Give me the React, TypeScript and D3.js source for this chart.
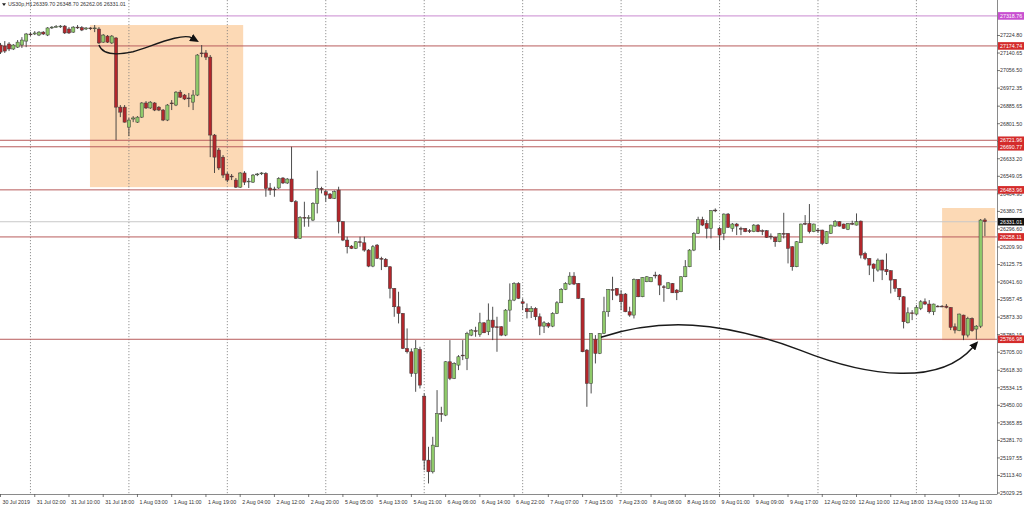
import React from 'react';
import * as d3 from 'd3';

// ---- data: US30p H1 candles (open, high, low, close), bar index 0..230 ----
const opens = [
  27179, 27174, 27184, 27160, 27169, 27179, 27198, 27232, 27232, 27227,
  27241, 27227, 27261, 27265, 27268, 27270, 27256, 27241, 27265, 27263,
  27256, 27261, 27258, 27256, 27193, 27222, 27189, 27213, 26881, 26881,
  26785, 26824, 26809, 26833, 26901, 26877, 26901, 26881, 26867, 26819,
  26901, 26891, 26953, 26939, 26925, 26905, 26939, 27141, 27141, 27121,
  26747, 26675, 26641, 26560, 26550, 26531, 26497, 26565, 26523, 26521,
  26557, 26562, 26563, 26493, 26488, 26493, 26541, 26517, 26536, 26427,
  26251, 26352, 26350, 26339, 26419, 26491, 26475, 26464, 26443, 26483,
  26331, 26243, 26214, 26203, 26235, 26230, 26195, 26118, 26219, 26155,
  26151, 26115, 26011, 25923, 25891, 25723, 25707, 25603, 25718, 25494,
  25187, 25131, 25251, 25411, 25403, 25659, 25579, 25643, 25691, 25675,
  25787, 25808, 25790, 25846, 25803, 25859, 25827, 25827, 25787, 25907,
  25955, 26035, 25947, 25915, 25899, 25915, 25875, 25830, 25843, 25830,
  25891, 25942, 26006, 26032, 26070, 26035, 25963, 25715, 25555, 25766,
  25699, 25795, 25899, 26006, 26011, 25984, 25984, 25899, 25883, 26054,
  25971, 26043, 26043, 26075, 26075, 26019, 26011, 26035, 26003, 25995,
  26067, 26115, 26195, 26275, 26342, 26323, 26299, 26387, 26299, 26275,
  26368, 26299, 26320, 26299, 26299, 26288, 26283, 26315, 26288, 26288,
  26262, 26256, 26235, 26275, 26275, 26211, 26115, 26230, 26323, 26323,
  26283, 26291, 26291, 26227, 26275, 26310, 26331, 26320, 26294, 26323,
  26315, 26334, 26179, 26155, 26128, 26099, 26147, 26102, 26096, 26054,
  26011, 25971, 25846, 25894, 25888, 25915, 25947, 25936, 25899, 25926,
  25926, 25926, 25920, 25827, 25808, 25883, 25787, 25867, 25816, 25830,
  26339.70,
];
const highs = [
  27189, 27198, 27193, 27184, 27203, 27217, 27237, 27241, 27246, 27246,
  27246, 27265, 27270, 27275, 27275, 27275, 27265, 27270, 27275, 27270,
  27265, 27265, 27275, 27265, 27232, 27227, 27227, 27217, 26891, 26891,
  26829, 26838, 26838, 26905, 26910, 26910, 26905, 26886, 26872, 26896,
  26915, 26958, 26963, 26944, 26949, 26963, 27136, 27179, 27155, 27131,
  26752, 26685, 26651, 26569, 26560, 26541, 26569, 26574, 26541, 26560,
  26565, 26569, 26569, 26517, 26499, 26545, 26545, 26541, 26691, 26435,
  26358, 26427, 26363, 26425, 26576, 26499, 26483, 26469, 26481, 26499,
  26334, 26259, 26219, 26238, 26259, 26259, 26200, 26219, 26224, 26163,
  26157, 26118, 26013, 25995, 25893, 25819, 25723, 25763, 25731, 25507,
  25251, 25299, 25523, 25443, 25662, 25763, 25657, 25691, 25763, 25803,
  25816, 25827, 25894, 25849, 25939, 25923, 25875, 25830, 25912, 26035,
  26041, 26041, 25963, 25939, 25926, 25921, 25891, 25854, 25849, 25897,
  25950, 26013, 26041, 26089, 26089, 26037, 25965, 25720, 25797, 25787,
  25797, 25971, 26008, 26067, 26013, 26003, 25989, 25923, 26059, 26056,
  26065, 26070, 26065, 26091, 26080, 26027, 26041, 26037, 26008, 26070,
  26147, 26200, 26281, 26355, 26355, 26339, 26387, 26395, 26307, 26371,
  26373, 26325, 26325, 26307, 26301, 26296, 26320, 26320, 26294, 26291,
  26275, 26259, 26277, 26374, 26277, 26214, 26238, 26322, 26363, 26416,
  26322, 26301, 26293, 26286, 26317, 26339, 26334, 26322, 26325, 26336,
  26371, 26337, 26187, 26157, 26131, 26155, 26149, 26179, 26099, 26056,
  26013, 25974, 25920, 25907, 25931, 25955, 25963, 25955, 25938, 25931,
  25931, 25936, 25921, 25843, 25890, 25885, 25875, 25872, 25835, 26344,
  26348.70,
];
const lows = [
  27136, 27141, 27150, 27155, 27165, 27165, 27169, 27222, 27227, 27222,
  27227, 27222, 27256, 27263, 27261, 27232, 27232, 27237, 27256, 27246,
  27251, 27251, 27241, 27184, 27189, 27189, 27184, 26723, 26833, 26807,
  26742, 26809, 26805, 26829, 26872, 26872, 26862, 26862, 26814, 26814,
  26867, 26886, 26925, 26915, 26881, 26867, 26934, 27121, 27107, 26641,
  26565, 26579, 26541, 26521, 26531, 26493, 26493, 26507, 26493, 26517,
  26550, 26555, 26451, 26459, 26451, 26488, 26512, 26512, 26425, 26248,
  26248, 26307, 26307, 26334, 26371, 26467, 26427, 26440, 26440, 26275,
  26238, 26179, 26200, 26200, 26211, 26187, 26113, 26113, 26152, 26099,
  26113, 25963, 25875, 25843, 25720, 25699, 25587, 25515, 25531, 25139,
  25075, 25123, 25250, 25371, 25398, 25571, 25576, 25619, 25667, 25619,
  25782, 25779, 25779, 25797, 25787, 25763, 25707, 25782, 25782, 25851,
  25950, 25960, 25907, 25867, 25869, 25859, 25787, 25797, 25821, 25825,
  25888, 25941, 26003, 26027, 26027, 25960, 25705, 25443, 25507, 25651,
  25696, 25792, 25875, 25955, 25974, 25907, 25897, 25875, 25867, 25969,
  25969, 26041, 26041, 26059, 25979, 25947, 26008, 25989, 25955, 25993,
  26065, 26113, 26190, 26272, 26310, 26251, 26251, 26377, 26195, 26243,
  26301, 26283, 26267, 26267, 26281, 26277, 26281, 26281, 26267, 26253,
  26246, 26211, 26233, 26251, 26131, 26096, 26113, 26229, 26315, 26275,
  26281, 26277, 26219, 26224, 26272, 26307, 26308, 26296, 26291, 26315,
  26313, 26155, 26147, 26075, 26043, 26091, 26051, 26075, 25987, 25995,
  25955, 25819, 25843, 25859, 25883, 25907, 25931, 25891, 25883, 25921,
  25921, 25915, 25811, 25795, 25806, 25763, 25776, 25803, 25766, 25821,
  26262.06,
];
const closes = [
  27145, 27150, 27160, 27179, 27193, 27203, 27232, 27229, 27237, 27241,
  27232, 27261, 27265, 27268, 27270, 27237, 27237, 27265, 27263, 27251,
  27261, 27258, 27261, 27189, 27227, 27193, 27222, 26881, 26857, 26809,
  26819, 26829, 26833, 26901, 26877, 26905, 26867, 26867, 26819, 26891,
  26898, 26953, 26929, 26920, 26922, 26939, 27131, 27140, 27121, 26747,
  26641, 26589, 26555, 26531, 26548, 26497, 26565, 26521, 26526, 26555,
  26560, 26565, 26491, 26483, 26486, 26539, 26517, 26536, 26427, 26251,
  26352, 26350, 26351, 26419, 26491, 26490, 26459, 26443, 26475, 26331,
  26243, 26211, 26203, 26235, 26234, 26195, 26118, 26211, 26155, 26154,
  26115, 26011, 25923, 25891, 25723, 25707, 25603, 25723, 25547, 25187,
  25131, 25259, 25411, 25410, 25659, 25579, 25651, 25683, 25690, 25795,
  25811, 25807, 25846, 25798, 25859, 25824, 25826, 25787, 25907, 25955,
  26035, 25963, 25939, 25899, 25915, 25875, 25830, 25846, 25830, 25891,
  25942, 26006, 26035, 26070, 26032, 25963, 25707, 25555, 25795, 25699,
  25795, 25899, 26006, 26005, 25979, 25947, 25899, 25883, 26054, 25971,
  26064, 26067, 26064, 26074, 26027, 26018, 26038, 25990, 25990, 26067,
  26115, 26195, 26275, 26342, 26315, 26299, 26384, 26386, 26267, 26368,
  26304, 26320, 26310, 26298, 26283, 26287, 26315, 26283, 26287, 26256,
  26261, 26235, 26275, 26274, 26203, 26115, 26235, 26320, 26322, 26283,
  26320, 26290, 26227, 26283, 26315, 26331, 26310, 26299, 26323, 26322,
  26331, 26171, 26155, 26123, 26107, 26147, 26099, 26091, 26051, 26011,
  25971, 25851, 25894, 25893, 25920, 25947, 25936, 25899, 25936, 25925,
  25925, 25920, 25824, 25811, 25888, 25787, 25867, 25808, 25830, 26339,
  26331.01,
];

// price axis tick labels
const priceTicks = [
  27224.80, 27140.65, 27056.50, 26972.35, 26885.65, 26801.50, 26717.35,
  26633.20, 26549.05, 26464.90, 26380.75, 26296.60, 26209.90, 26125.75,
  26041.60, 25957.45, 25873.30, 25789.15, 25705.00, 25618.30, 25534.15,
  25450.00, 25365.85, 25281.70, 25197.55, 25113.40, 25029.25,
];

// time axis labels: bar index and text
const timeLabelIdx = [0, 8, 16, 24, 32, 40, 48, 56, 64, 72, 80, 88, 96, 104, 112,
  120, 128, 136, 144, 152, 160, 168, 176, 184, 192, 200, 208, 216, 224];
const timeLabels = [
  '30 Jul 2019', '31 Jul 02:00', '31 Jul 10:00', '31 Jul 18:00', '1 Aug 03:00',
  '1 Aug 11:00', '1 Aug 19:00', '2 Aug 04:00', '2 Aug 12:00', '2 Aug 20:00',
  '5 Aug 05:00', '5 Aug 13:00', '5 Aug 21:00', '6 Aug 06:00', '6 Aug 14:00',
  '6 Aug 22:00', '7 Aug 07:00', '7 Aug 15:00', '7 Aug 23:00', '8 Aug 08:00',
  '8 Aug 16:00', '9 Aug 01:00', '9 Aug 09:00', '9 Aug 17:00', '12 Aug 02:00',
  '12 Aug 10:00', '12 Aug 18:00', '13 Aug 03:00', '13 Aug 11:00',
];

// vertical grid lines (bar indices)
const gridIdx = [7, 30, 53, 76, 99, 122, 145, 168, 191, 214];

// horizontal levels
const redLevels = [27174.74, 26721.96, 26690.77, 26483.96, 26258.11, 25766.98];
const magentaLevel = 27318.76;
const bidLevel = 26331.01;

// shaded zones: [startIdx, endIdx, priceTop, priceBottom]
const zones = [
  [20.9, 56.7, 27275, 26497],
  [220.0, 232.4, 26397, 25763],
];

// arrows (bar index, price) : start, then cubic segments
const arrow1 = [[23.0, 27179], [23.95, 27126], [27.45, 27131], [30.96, 27147], [34.93, 27169], [42.41, 27241], [44.74, 27213]];
const arrow2 = [[140.3, 25777], [154.1, 25869], [168.1, 25859], [186.8, 25715], [203.2, 25581], [219.5, 25547], [227.2, 25729]];

const header = ['US30p,H1', '26339.70 26348.70 26262.06 26331.01'];

const W = 1024;
const H = 508;
const PR = 997; // plot right
const PB = 494; // plot bottom
const FONT = '"Liberation Sans", Arial, sans-serif';

export default function App() {
  const x = d3.scaleLinear().domain([0, 230]).range([0.5, 984.9]);
  const y = d3.scaleLinear().domain([25029.25, 27224.80]).range([493, 35.5]);
  const fmt = d3.format('.2f');

  const candles = opens.map((o, i) => ({ i, o, h: highs[i], l: lows[i], c: closes[i] }));

  const arrowPath = (pts: number[][]) => {
    const p = d3.path();
    const P = pts.map(([a, b]) => [x(a), y(b)]);
    p.moveTo(P[0][0], P[0][1]);
    for (let k = 1; k + 2 < P.length; k += 3) {
      p.bezierCurveTo(P[k][0], P[k][1], P[k + 1][0], P[k + 1][1], P[k + 2][0], P[k + 2][1]);
    }
    return p.toString();
  };

  const bull = '#8fca6a';
  const bear = '#b3262b';
  const edge = '#3a3a3a';
  const lvlRed = '#b85c5c';
  const boxRed = '#d42b2b';

  const labelBox = (v: number, fill: string, key: string) => (
    <g key={key}>
      <rect x={998} y={y(v) - 3.8} width={26} height={7.6} fill={fill} />
      <text x={1000} y={y(v) + 1.9} fontSize={5.3} fill="#fff" fontFamily={FONT}>{fmt(v)}</text>
    </g>
  );

  return (
    <div>
      <style>{'body{margin:0;background:#fff}'}</style>
      <svg width={W} height={H} style={{ display: 'block' }}>
        <defs>
          <marker id="ah" markerUnits="userSpaceOnUse" markerWidth={9} markerHeight={8}
            refX={1} refY={4} orient="auto">
            <path d="M0,0 L9,4 L0,8 Z" fill="#111" />
          </marker>
          <clipPath id="plot"><rect x={0} y={0} width={PR} height={PB} /></clipPath>
        </defs>
        <rect x={0} y={0} width={W} height={H} fill="#fff" />

        <g clipPath="url(#plot)">
          {zones.map(([a, b, pt, pb], k) => (
            <rect key={k} x={x(a)} y={y(pt)} width={x(b) - x(a)} height={y(pb) - y(pt)} fill="#fcd9b5" />
          ))}

          {gridIdx.map((g) => (
            <line key={g} x1={x(g)} x2={x(g)} y1={0} y2={PB} stroke="#7a7a7a" strokeWidth={0.8} strokeDasharray="1.2,1.8" />
          ))}

          <line x1={0} x2={PR} y1={y(magentaLevel)} y2={y(magentaLevel)} stroke="#c98ad0" strokeWidth={1} />
          {redLevels.map((v) => (
            <line key={v} x1={0} x2={PR} y1={y(v)} y2={y(v)} stroke={lvlRed} strokeWidth={1} />
          ))}
          <line x1={0} x2={PR} y1={y(bidLevel)} y2={y(bidLevel)} stroke="#c8c8c8" strokeWidth={1} />

          {candles.map((d) => {
            const cx = x(d.i);
            const top = y(Math.max(d.o, d.c));
            const bot = y(Math.min(d.o, d.c));
            const hgt = Math.max(bot - top, 0.8);
            const up = d.c > d.o;
            const dn = d.c < d.o;
            return (
              <g key={d.i}>
                <line x1={cx} x2={cx} y1={y(d.h)} y2={y(d.l)} stroke={edge} strokeWidth={0.9} />
                <rect x={cx - 1.6} y={top} width={3.2} height={hgt}
                  fill={up ? bull : dn ? bear : edge} stroke={edge} strokeWidth={0.5} />
              </g>
            );
          })}

          <path d={arrowPath(arrow1)} fill="none" stroke="#1a1a1a" strokeWidth={1.4} markerEnd="url(#ah)" />
          <path d={arrowPath(arrow2)} fill="none" stroke="#1a1a1a" strokeWidth={1.5} markerEnd="url(#ah)" />
        </g>

        {/* axes */}
        <line x1={PR + 0.5} x2={PR + 0.5} y1={0} y2={PB} stroke="#8a8a8a" strokeWidth={1} />
        <line x1={0} x2={PR + 0.5} y1={PB + 0.5} y2={PB + 0.5} stroke="#8a8a8a" strokeWidth={1} />

        {priceTicks.map((v) => (
          <g key={v}>
            <line x1={PR} x2={PR + 3} y1={y(v)} y2={y(v)} stroke="#555" strokeWidth={0.8} />
            <text x={1000} y={y(v) + 1.9} fontSize={5.3} fill="#333" fontFamily={FONT}>{fmt(v)}</text>
          </g>
        ))}

        {timeLabelIdx.map((ti, k) => (
          <g key={ti}>
            <line x1={x(ti)} x2={x(ti)} y1={PB} y2={PB + 3} stroke="#555" strokeWidth={0.8} />
            <text x={x(ti) + 2} y={504} fontSize={5.3} fill="#333" fontFamily={FONT}>{timeLabels[k]}</text>
          </g>
        ))}

        {labelBox(magentaLevel, '#c84fd0', 'm')}
        {redLevels.map((v) => labelBox(v, boxRed, 'r' + v))}
        {labelBox(bidLevel, '#111', 'b')}

        {/* header */}
        <path d="M2,3.2 L6,3.2 L4,6 Z" fill="#222" />
        <text x={8} y={6.4} fontSize={5.3} fill="#333" fontFamily={FONT}>{header[0]}</text>
        <text x={33} y={6.4} fontSize={5.3} fill="#333" fontFamily={FONT}>{header[1]}</text>
      </svg>
    </div>
  );
}
